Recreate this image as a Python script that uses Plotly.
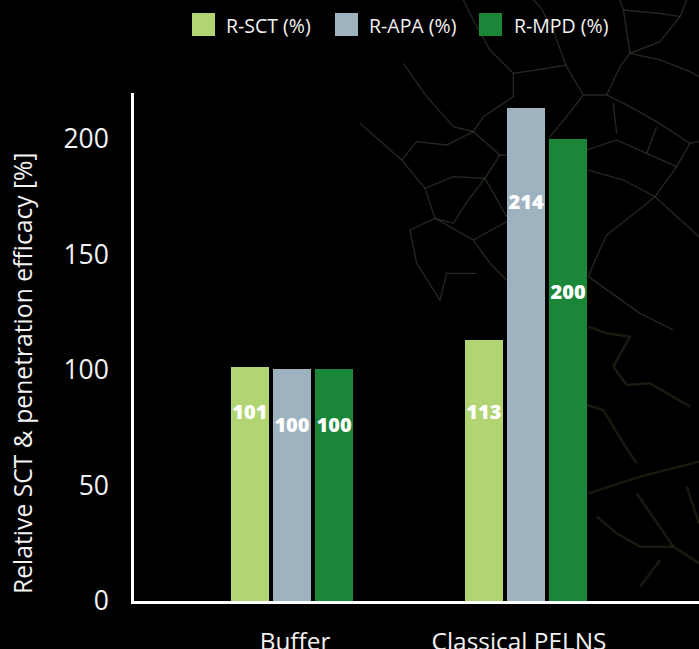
import plotly.graph_objects as go

categories = ["Buffer", "Classical PELNS"]
series_names = ["R-SCT (%)", "R-APA (%)", "R-MPD (%)"]
r_sct = [101.5, 113]
r_apa = [100.6, 213.5]
r_mpd = [100.6, 200]
label_sct = ["101", "113"]
label_apa = ["100", "214"]
label_mpd = ["100", "200"]
label_y_sct = [81, 81]
label_y_apa = [75.5, 172]
label_y_mpd = [75.5, 133]
colors = ["#b2d473", "#9fb2c0", "#1a8638"]
tick_positions = [0.013, 0.97]
y_title = "Relative SCT &amp; penetration efficacy [%]"

W, H = 699, 649
FONT = "Open Sans"
L, R, T, B = 134, 699, 93, 601

fig = go.Figure()

# Decorative leaf veins of the backdrop, as (x, y) in a 3x crop of the picture's upper right
veins_upper = [
    [(730,285),(800,285),(870,320),(950,365),(1050,430),(1077,425)],
    [(1050,430),(1010,500),(945,590),(870,650),(800,705),(770,770),(745,830)],
    [(730,285),(680,200),(650,120),(640,90)],
    [(730,285),(680,350),(630,410)],
    [(800,285),(840,200),(870,160),(960,125),(1020,50),(1040,0)],
    [(870,160),(960,180),(1050,215),(1077,230)],
    [(520,220),(620,205),(680,195)],
    [(520,220),(450,150),(400,60),(370,0)],
    [(520,220),(520,290),(430,350),(400,395),(340,380),(260,290),(190,190)],
    [(400,395),(480,465),(500,465)],
    [(480,465),(435,535),(500,650)],
    [(435,535),(340,530),(255,565),(285,655),(400,720),(450,790),(500,840)],
    [(255,565),(185,480),(230,425),(320,435),(400,395)],
    [(285,655),(340,670),(385,600),(435,535)],
    [(185,480),(60,370)],
    [(745,830),(900,940),(1000,990)],
    [(945,590),(1077,710)],
    [(745,510),(850,540),(945,590)],
    [(740,450),(830,420),(920,460),(1010,500)],
    [(820,310),(830,400)],
    [(285,655),(210,690),(230,790),(300,900),(320,820),(410,820)],
    [(400,720),(500,665)],
    [(850,30),(960,40),(1020,50)],
    [(920,460),(950,380)],
    [(640,90),(600,20),(580,0)],
    [(840,0),(850,30),(870,160)],
]
veins_lower = [
    [(740,255),(790,270),(850,370),(890,430)],
    [(820,140),(860,195),(930,190),(1050,260)],
    [(820,140),(870,50),(800,40),(745,20)],
    [(745,520),(900,470),(1077,425)],
    [(890,520),(1000,680),(1077,730)],
    [(960,720),(900,800)],
    [(770,590),(830,640),(900,680),(1000,680)],
    [(1040,500),(1077,610)],
]

def vein_path(points, oy):
    out = []
    for i, (zx, zy) in enumerate(points):
        px = 340 + zx / 3
        py = oy + zy / 3
        out.append(("M" if i == 0 else "L") + f"{(px - L) / (R - L):.4f},{(B - py) / (B - T):.4f}")
    return " ".join(out)

shapes = []
for v in veins_upper:
    shapes.append(dict(type="path", xref="paper", yref="paper", layer="below",
                       path=vein_path(v, 0), line=dict(color="rgba(62,76,58,0.55)", width=1.3)))
for v in veins_lower:
    shapes.append(dict(type="path", xref="paper", yref="paper", layer="below",
                       path=vein_path(v, 320), line=dict(color="rgba(42,56,30,0.5)", width=2.5)))

xpos = [0, 1]
offsets = [-0.18, 0, 0.18]
all_vals = [r_sct, r_apa, r_mpd]
all_labels = [label_sct, label_apa, label_mpd]
all_label_y = [label_y_sct, label_y_apa, label_y_mpd]
for name, vals, col, off in zip(series_names, all_vals, colors, offsets):
    fig.add_bar(x=[p + off for p in xpos], y=vals, name=name, width=0.162,
                marker=dict(color=col, line=dict(width=0)), showlegend=False)
for labs, ly, off in zip(all_labels, all_label_y, offsets):
    fig.add_scatter(x=[p + off for p in xpos], y=ly, mode="text", text=labs,
                    textfont=dict(family=FONT, size=20, color="white", weight=800),
                    showlegend=False, hoverinfo="skip")

fig.update_layout(
    width=W, height=H, margin=dict(l=L, r=W - R, t=T, b=H - B, autoexpand=False),
    paper_bgcolor="#000000", plot_bgcolor="rgba(0,0,0,0)",
    font=dict(family=FONT, color="#f2f2f2"),
    autosize=False,
    xaxis=dict(range=[-0.675, 1.739], tickvals=tick_positions, ticktext=categories, automargin=False,
               tickfont=dict(size=24.4, color="#f2f2f2"), ticks="", showgrid=False, zeroline=False,
               showline=True, linecolor="white", linewidth=2.5, ticklabelstandoff=17),
    yaxis=dict(range=[0, 220], tickvals=[0, 50, 100, 150, 200], automargin=False,
               tickfont=dict(size=26.5, color="#f2f2f2"), ticks="", showgrid=False, zeroline=False,
               showline=True, linecolor="white", linewidth=2.5, ticklabelstandoff=17),
    bargap=0,
)

# legend drawn by hand to reach the square swatches of the reference
swatch_x = [192, 335, 479]
text_x = [224, 367, 512]
annots = []
for name, col, sx, tx in zip(series_names, colors, swatch_x, text_x):
    shapes.append(dict(type="rect", xref="paper", yref="paper",
                       x0=(sx - L) / (R - L), x1=(sx + 23 - L) / (R - L),
                       y0=(B - 36) / (B - T), y1=(B - 13) / (B - T),
                       fillcolor=col, line=dict(width=0)))
    annots.append(dict(text=name, xref="paper", yref="paper", showarrow=False,
                       x=(tx - L) / (R - L), xanchor="left", y=(B - 25) / (B - T), yanchor="middle",
                       font=dict(family=FONT, size=19.5, color="#f2f2f2")))
annots.append(dict(text=y_title, xref="paper", yref="paper", showarrow=False, textangle=-90,
                   x=(22 - L) / (R - L), xanchor="center", y=(B - 373) / (B - T), yanchor="middle",
                   font=dict(family=FONT, size=24.7, color="#f2f2f2")))
fig.update_layout(shapes=shapes, annotations=annots)
fig.write_html("out.html", config=dict(displayModeBar=False),
               post_script="document.body.style.margin='0';document.body.style.background='#000';")
